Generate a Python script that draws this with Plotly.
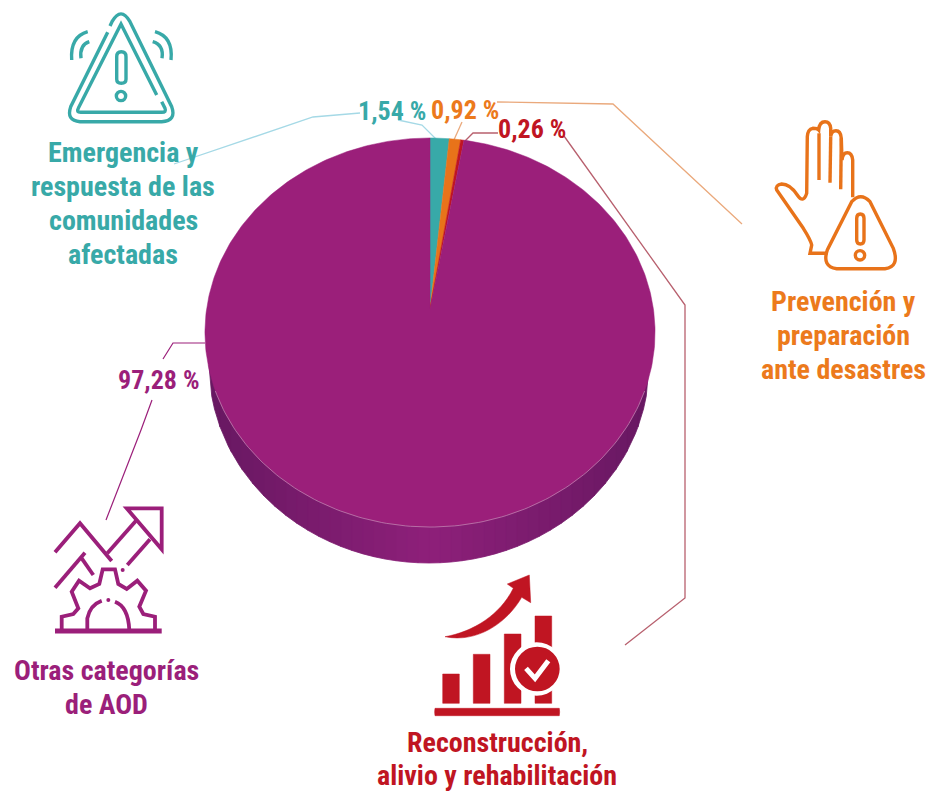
import re
import math
import plotly.graph_objects as go

categories = ["Emergencia y respuesta de las comunidades afectadas",
              "Prevención y preparación ante desastres",
              "Reconstrucción, alivio y rehabilitación",
              "Otras categorías de AOD"]
values = [1.54, 0.92, 0.26, 97.28]
slice_colors = ["#38a9a8", "#e8731a", "#c01522", "#9b1f7a"]
text_colors = ["#38a9a8", "#ec7a1c", "#c01522", "#9b1f7a"]
cat_lines = ["Emergencia y<br>respuesta de las<br>comunidades<br>afectadas",
             "Prevención y<br>preparación<br>ante desastres",
             "Reconstrucción,<br>alivio y rehabilitación",
             "Otras categorías<br>de AOD"]

FONT = "Roboto Condensed, Roboto"
CX, CY = 430, 309
SX, SY, K = 223.4, 191.7, 0.1208
# outer silhouette of the disc's side wall
WX, WY, WRX, WRY = 429, 365, 220, 198


def project(theta):
    d = 1 + K * math.cos(theta)
    return CX + SX * math.sin(theta) / d, CY - SY * math.cos(theta) / d


fig = go.Figure()
total = sum(values)


def arc(a0, a1, n):
    return [a0 + (a1 - a0) * i / n for i in range(n + 1)]


# side wall of the disc, shaded in vertical bands
nb = 40
for i in range(nb):
    x0 = WX - WRX + 2 * WRX * i / nb
    x1 = WX - WRX + 2 * WRX * (i + 1) / nb
    xs, ys = [], []
    for j in range(5):
        x = x0 + (x1 - x0) * j / 4
        u = max(-1.0, min(1.0, (x - WX) / WRX))
        xs.append(x)
        ys.append(WY + WRY * math.sqrt(1 - u * u))
    xs += [x1, x0, x0]
    ys += [WY, WY, ys[0]]
    t = (1 - abs(2 * (i + 0.5) / nb - 1)) ** 1.0
    col = "rgb(%d,%d,%d)" % (104 + (142 - 104) * t, 24 + (32 - 24) * t, 98 + (122 - 98) * t)
    fig.add_trace(go.Scatter(x=xs, y=ys, mode="lines", fill="toself", fillcolor=col,
                             line=dict(color=col, width=0.8), hoverinfo="skip", showlegend=False))

# top face
cum = 0.0
for name, v, c in zip(categories, values, slice_colors):
    a0 = 2 * math.pi * cum / total
    a1 = 2 * math.pi * (cum + v) / total
    cum += v
    n = max(4, int(v * 4))
    pts = [project(a) for a in arc(a0, a1, n)]
    xs = [CX] + [p[0] for p in pts] + [CX]
    ys = [CY] + [p[1] for p in pts] + [CY]
    fig.add_trace(go.Scatter(x=xs, y=ys, mode="lines", fill="toself", fillcolor=c,
                             line=dict(color=c, width=0.5), name=name,
                             hovertemplate=name + ": %{text}<extra></extra>",
                             text=[f"{v:.2f}".replace(".", ",") + " %"] * len(xs),
                             showlegend=False))

# pale rim on the front edge
rim = [project(a) for a in arc(math.radians(114), math.radians(246), 120)]
fig.add_trace(go.Scatter(x=[p[0] for p in rim], y=[p[1] for p in rim], mode="lines",
                         line=dict(color="#c48fb8", width=0.7), hoverinfo="skip", showlegend=False))

shapes = []


def zoom_path(path, ox, oy):
    nums = re.split(r"([A-Za-z])", path)
    out = []
    for tok in nums:
        if re.fullmatch(r"[A-Za-z]", tok):
            out.append(tok)
        elif tok.strip():
            vals = [float(x) for x in tok.split()]
            conv = []
            for j, val in enumerate(vals):
                conv.append(f"{(ox if j % 2 == 0 else oy) + val / 3:.1f}")
            out.append(" ".join(conv))
    return " ".join(out)


def stroke(path, ox, oy, color, width=3.4, fill=None):
    s = dict(type="path", xref="x", yref="y", path=zoom_path(path, ox, oy),
             line=dict(color=color, width=width), layer="above")
    if fill:
        s["fillcolor"] = fill
    shapes.append(s)


def disc(cx, cy, r, ox, oy, fill, line=None, width=0):
    shapes.append(dict(type="circle", xref="x", yref="y",
                       x0=ox + (cx - r) / 3, x1=ox + (cx + r) / 3,
                       y0=oy + (cy - r) / 3, y1=oy + (cy + r) / 3,
                       fillcolor=fill, line=dict(color=line or fill, width=width), layer="above"))


def seg(points, color, width=1.3):
    d = "M" + " L".join(f"{x} {y}" for x, y in points)
    shapes.append(dict(type="path", xref="x", yref="y", path=d,
                       line=dict(color=color, width=width), layer="below"))


# leader lines
seg([(174, 164), (313, 117), (360, 113)], "#a5d9e6")
seg([(398, 120), (422, 125), (439, 142)], "#a5d9e6")
seg([(497, 102), (613, 104), (742, 224)], "#eaa97c")
seg([(462, 122), (453, 142)], "#eaa97c")
seg([(498, 133), (473, 133), (465, 141)], "#b8606e")
seg([(564, 136), (685, 305), (685, 598), (625, 645)], "#b8606e")
seg([(205, 343), (173, 343), (163, 359)], "#9b1f7a", 1.2)
seg([(152, 400), (141, 430), (106, 520)], "#9b1f7a", 1.2)

# teal icon
T = "#38a9a8"
ox, oy = 20, 0
stroke("M263 97 L152 320 Q138 362 180 365 L425 365 Q470 362 455 320 L330 65 Q303 18 276 65 L270 78", ox, oy, T)
stroke("M410 285 L303 72 L175 325 Q168 337 182 337 L425 337 Q440 337 435 325 L425 305", ox, oy, T)
stroke("M290 170 Q290 155 304 155 Q318 155 318 170 L318 238 Q318 250 304 250 Q290 250 290 238 Z", ox, oy, T)
disc(303, 288, 14, ox, oy, "rgba(0,0,0,0)", T, 3.4)
stroke("M203 95 Q150 110 155 180", ox, oy, T)
stroke("M208 125 Q178 135 183 175", ox, oy, T)
stroke("M405 95 Q460 110 453 180", ox, oy, T)
stroke("M398 125 Q432 135 426 175", ox, oy, T)

# orange icon
O = "#e8731a"
ox, oy = 740, 110
stroke("M338 262 L338 150 Q336 128 322 128 Q308 128 306 150 L304 85 Q302 62 288 62 Q274 62 272 80 L272 55 Q270 35 255 35 Q238 35 236 60 Q232 55 218 55 Q203 58 202 80 "
       "L200 250 Q190 282 172 255 Q150 222 125 222 Q105 225 110 240 L190 355 Q212 390 215 405 L210 430 L262 430", ox, oy, O)
stroke("M237 70 L237 210", ox, oy, O)
stroke("M272 80 L270 218", ox, oy, O)
stroke("M304 85 L302 238", ox, oy, O)
stroke("M335 275 Q362 245 390 275 L460 415 Q480 470 435 476 L290 476 Q245 470 262 420 Z", ox, oy, O)
stroke("M350 325 Q350 312 361 312 Q372 312 372 325 L372 390 Q372 402 361 402 Q350 402 350 390 Z", ox, oy, O)
disc(360, 436, 14, ox, oy, "rgba(0,0,0,0)", O, 3.4)

# purple icon
P = "#9b1f7a"
ox, oy = 10, 490
stroke("M135 187 L210 100 L305 213", ox, oy, P, 3.8)
stroke("M292 190 L378 92", ox, oy, P, 3.8)
stroke("M352 225 L420 148", ox, oy, P, 3.8)
stroke("M350 55 L455 55 L455 178 Z", ox, oy, P, 3.8)
stroke("M135 293 L225 188", ox, oy, P, 3.8)
stroke("M215 205 L250 255", ox, oy, P, 3.8)
stroke("M135 423 L455 423", ox, oy, P, 5)
stroke("M155 420 L155 380 L190 372 L205 355 L185 305 L207 272 L240 295 L268 282 L278 238 L315 238 L325 282 L350 297 L382 272 L408 302 L388 350 L400 372 L435 380 L435 420", ox, oy, P, 3.8)
disc(338, 240, 6, ox, oy, P)
disc(295, 330, 6, ox, oy, P)
stroke("M232 420 L232 385 Q240 345 275 332", ox, oy, P, 3.8)
stroke("M315 335 Q355 350 358 420", ox, oy, P, 3.8)

# red icon
R = "#c01522"
ox, oy = 420, 560
for x0, y0 in [(68, 342), (160, 283), (253, 222), (345, 168)]:
    stroke(f"M{x0} {y0} L{x0 + 50} {y0} L{x0 + 50} 430 L{x0} 430 Z", ox, oy, R, 0.5, R)
disc(350, 327, 80, ox, oy, "#ffffff")
disc(352, 327, 67, ox, oy, R)
stroke("M45 445 L418 445 Q420 456 418 467 L45 467 Q43 456 45 445 Z", ox, oy, R, 0.5, R)
stroke("M75 230 C160 215 240 165 280 85 L262 72 L328 45 L332 128 L305 112 C260 190 170 250 75 230 Z", ox, oy, R, 0.5, R)
stroke("M318 325 L345 355 L385 302", ox, oy, "#ffffff", 5)

annotations = []


def label(text, x, y, color, size=28):
    annotations.append(dict(text=f"<b>{text}</b>", x=x, y=y, xref="x", yref="y", showarrow=False,
                            align="center", xanchor="center", yanchor="middle",
                            font=dict(family=FONT, size=size, color=color)))


def multiline(text, x, first_y, step, color):
    for i, line in enumerate(text.split("<br>")):
        label(line, x, first_y + step * i, color)


pct = [f"{v:.2f}".replace(".", ",") + " %" for v in values]
label(pct[0], 392, 111, text_colors[0], 26)
label(pct[1], 465, 110, text_colors[1], 26)
label(pct[2], 532, 129, text_colors[2], 26)
label(pct[3], 159, 380, text_colors[3], 26)
multiline(cat_lines[0], 123, 152, 34.3, text_colors[0])
multiline(cat_lines[1], 843, 301, 34.3, text_colors[1])
multiline(cat_lines[2], 497, 742, 33.5, text_colors[2])
multiline(cat_lines[3], 106, 670, 34.3, text_colors[3])

fig.update_layout(
    width=926, height=791, margin=dict(l=0, r=0, t=0, b=0),
    paper_bgcolor="#ffffff", plot_bgcolor="#ffffff", showlegend=False,
    xaxis=dict(range=[0, 926], visible=False, fixedrange=True),
    yaxis=dict(range=[791, 0], visible=False, fixedrange=True),
    shapes=shapes, annotations=annotations,
)
fig.write_html("out.html", config={"displayModeBar": False},
               post_script="document.body.style.margin='0';")
